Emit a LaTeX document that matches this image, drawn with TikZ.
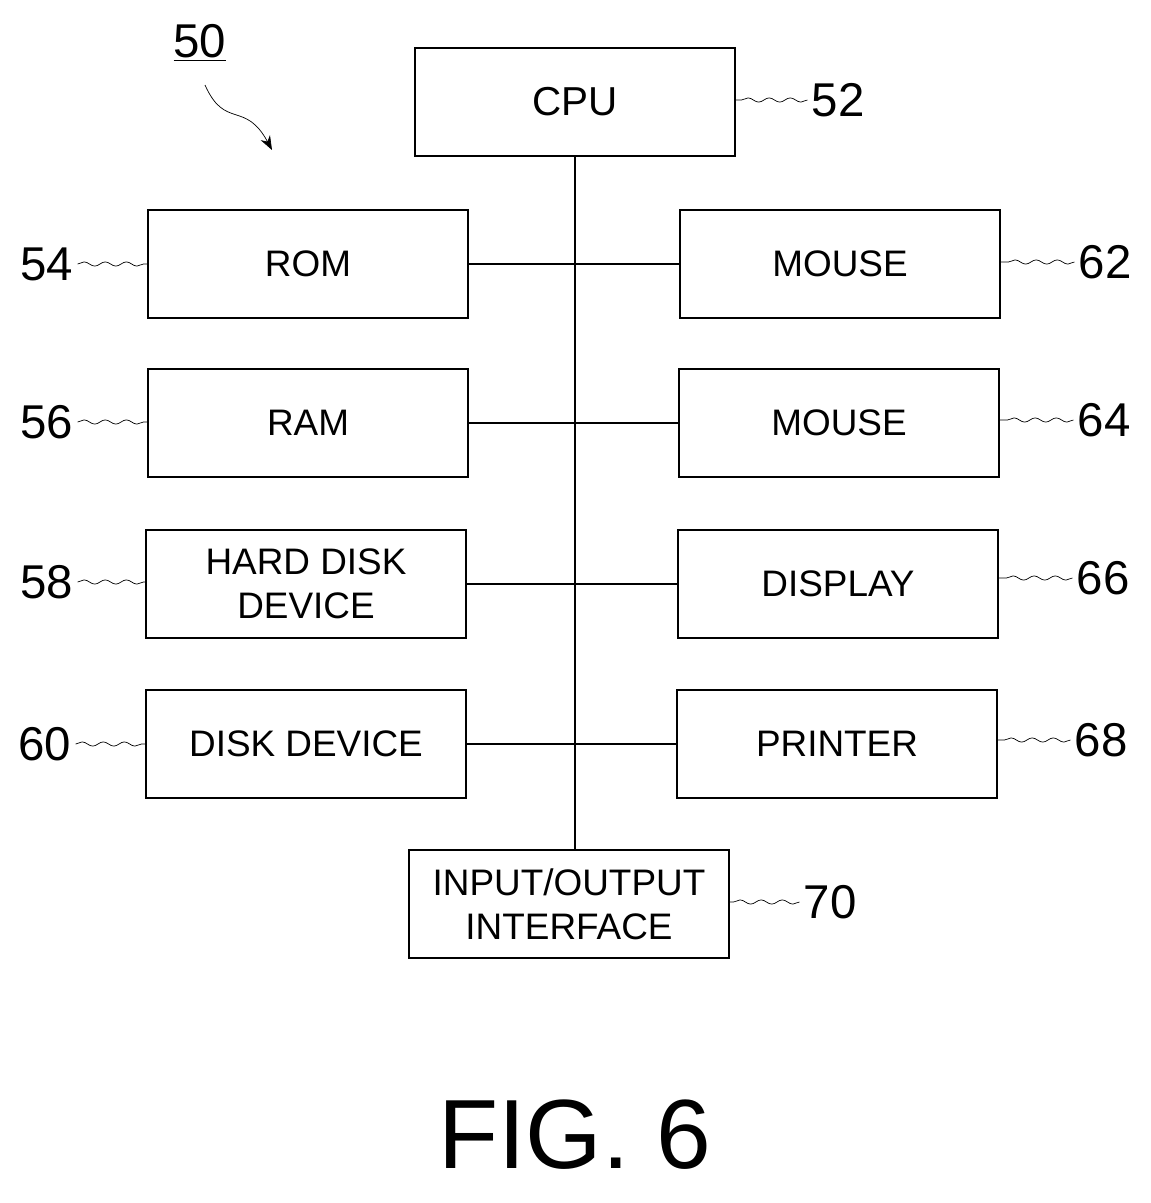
\documentclass[tikz,border=0pt]{standalone}
\usepackage{fontspec}
\setmainfont{Liberation Sans}
\usetikzlibrary{positioning,decorations.pathmorphing,arrows.meta}
\begin{document}
\begin{tikzpicture}[x=0.02cm,y=-0.02cm,thick,
	box/.style={draw,minimum width=6.4cm,minimum height=2.16cm,align=center,font=\fontsize{21}{25}\selectfont,inner sep=0pt},
	num/.style={font=\fontsize{27}{30}\selectfont,inner sep=2pt},
	lead/.style={decorate,decoration={snake,amplitude=1.2pt,segment length=12pt},thin}]
	\useasboundingbox (0,0) rectangle (1151,1203);

	\node[box,font=\fontsize{23}{26}\selectfont] (cpu) at (575,102) {CPU};
	\node[box] (rom) at (308,264) {ROM};
	\node[box] (ram) at (308,423) {RAM};
	\node[box] (hdd) at (306,584) {HARD DISK\\DEVICE};
	\node[box] (dsk) at (306,744) {DISK DEVICE};
	\node[box] (ms1) at (840,264) {MOUSE};
	\node[box] (ms2) at (839,423) {MOUSE};
	\node[box] (dsp) at (838,584) {DISPLAY};
	\node[box] (prn) at (837,744) {PRINTER};
	\node[box] (io) at (569,904) {INPUT/OUTPUT\\INTERFACE};

	% bus
	\draw (cpu.south) -- (cpu.south |- io.north);
	\draw (rom) -- (ms1);
	\draw (ram) -- (ms2);
	\draw (hdd) -- (dsp);
	\draw (dsk) -- (prn);

	% reference numerals
	\node[num] (n52) at (838,100) {52};
	\node[num] (n54) at (47,264) {54};
	\node[num] (n56) at (47,422) {56};
	\node[num] (n58) at (47,582) {58};
	\node[num] (n60) at (45,744) {60};
	\node[num] (n62) at (1105,262) {62};
	\node[num] (n64) at (1104,420) {64};
	\node[num] (n66) at (1103,578) {66};
	\node[num] (n68) at (1101,740) {68};
	\node[num] (n70) at (830,902) {70};
	\draw[lead] (n52.west) -- (cpu.east |- n52.west);
	\draw[lead] (n54.east) -- (rom.west |- n54.east);
	\draw[lead] (n56.east) -- (ram.west |- n56.east);
	\draw[lead] (n58.east) -- (hdd.west |- n58.east);
	\draw[lead] (n60.east) -- (dsk.west |- n60.east);
	\draw[lead] (n62.west) -- (ms1.east |- n62.west);
	\draw[lead] (n64.west) -- (ms2.east |- n64.west);
	\draw[lead] (n66.west) -- (dsp.east |- n66.west);
	\draw[lead] (n68.west) -- (prn.east |- n68.west);
	\draw[lead] (n70.west) -- (io.east |- n70.west);

	\node[num] (n50) at (200,43) {\underline{50}};
	\coordinate (tip50) at (272,150);
	\draw[thin,-{Stealth[length=8pt]}] (205,85) .. controls (225,130) and (245,100) .. (tip50);

	\node[font=\fontsize{56}{60}\selectfont] (fig) at (575,1135) {FIG. 6};
\end{tikzpicture}
\end{document}
